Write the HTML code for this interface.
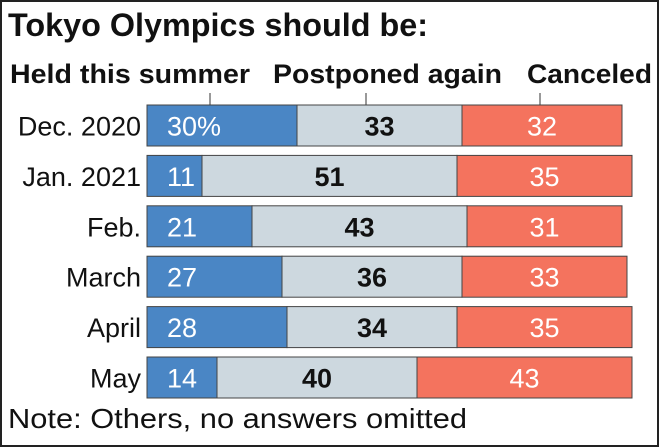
<!DOCTYPE html>
<html><head><meta charset="utf-8"><style>
body{margin:0;background:#fff;}
svg{display:block;font-family:"Liberation Sans",Arial,sans-serif;}
</style></head><body>
<svg width="660" height="448" viewBox="0 0 660 448">
<rect x="1" y="1" width="657" height="445" fill="#fff" stroke="#222" stroke-width="2"/>
<text x="8" y="36" font-size="32" font-weight="bold" fill="#111" textLength="420" lengthAdjust="spacingAndGlyphs">Tokyo Olympics should be:</text>
<text x="10" y="83" font-size="27" font-weight="bold" fill="#111" textLength="240" lengthAdjust="spacingAndGlyphs">Held this summer</text>
<text x="273" y="83" font-size="27" font-weight="bold" fill="#111" textLength="229" lengthAdjust="spacingAndGlyphs">Postponed again</text>
<text x="527" y="83" font-size="27" font-weight="bold" fill="#111" textLength="125" lengthAdjust="spacingAndGlyphs">Canceled</text>
<line x1="210" y1="93" x2="210" y2="105" stroke="#333"/>
<line x1="366" y1="93" x2="366" y2="105" stroke="#333"/>
<line x1="540" y1="93" x2="540" y2="105" stroke="#333"/>
<g id="bars"></g>
<text x="8" y="428" font-size="28" fill="#111" textLength="459" lengthAdjust="spacingAndGlyphs">Note: Others, no answers omitted</text>
</svg>
<script>
const categories=["Dec. 2020","Jan. 2021","Feb.","March","April","May"];
const held=[30,11,21,27,28,14];
const postponed=[33,51,43,36,34,40];
const canceled=[32,35,31,33,35,43];
const x0=147,scale=5,y0=105,pitch=50.4,bh=41;
const xs=v=>v*scale;
const g=document.getElementById('bars');
const NS="http://www.w3.org/2000/svg";
function mk(tag,attrs){const e=document.createElementNS(NS,tag);for(const k in attrs)e.setAttribute(k,attrs[k]);g.appendChild(e);return e;}
categories.forEach((c,i)=>{
 const y=y0+i*pitch;
 const lab=mk('text',{x:141,y:y+bh/2+10,'font-size':27,'text-anchor':'end',fill:'#111'});
 lab.textContent=c;
 
 
 const segs=[[held[i],'#4a86c5','#fff','normal','held'],[postponed[i],'#cdd8df','#111','bold','postponed'],[canceled[i],'#f4735e','#fff','normal','canceled']];
 let x=x0;
 segs.forEach((s,j)=>{
  const w=xs(s[0]);
  const r=mk('rect',{x:x,y:y,width:w,height:bh,fill:s[1],stroke:'#444','stroke-width':1});
  
  
  const t=mk('text',{x:j==0?x+20:x+w/2,y:y+bh/2+10,'font-size':27,'text-anchor':j==0?'start':'middle',fill:s[2],'font-weight':s[3]});
  t.textContent=s[0]+(i==0&&j==0?'%':'');
  
  
  x+=w;
 });
});
</script>
</body></html>
